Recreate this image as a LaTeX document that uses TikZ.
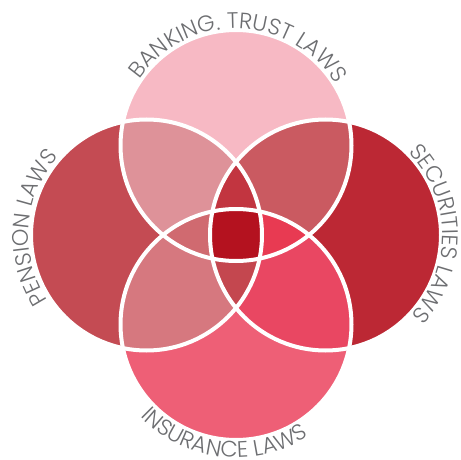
\documentclass[tikz,border=0pt]{standalone}
\usepackage{fontspec}
\setsansfont{Poppins}[UprightFont=* Light]
\usetikzlibrary{decorations.text}

\definecolor{bankonly}{RGB}{247,185,196}
\definecolor{pensonly}{RGB}{196,75,83}
\definecolor{secuonly}{RGB}{188,40,52}
\definecolor{insuonly}{RGB}{238,95,118}
\definecolor{bankpens}{RGB}{222,146,153}
\definecolor{banksecu}{RGB}{202,90,97}
\definecolor{insupens}{RGB}{214,120,127}
\definecolor{insusecu}{RGB}{233,71,98}
\definecolor{topmid}{RGB}{194,53,64}
\definecolor{botmid}{RGB}{196,71,79}
\definecolor{leftmid}{RGB}{208,106,112}
\definecolor{rightmid}{RGB}{232,58,82}
\definecolor{allfour}{RGB}{180,18,31}
\definecolor{lawgrey}{RGB}{109,110,113}

\tikzset{
  rim/.style={draw=white, line width=3pt},
  lawlabel/.style={decorate, decoration={text along path, text align=center,
      text={|\sffamily\fontsize{16.8}{16.8}\selectfont\color{lawgrey}|#1}}}
}

\begin{document}
\begin{tikzpicture}[x=0.75pt,y=0.75pt,yscale=-1,xscale=1]
\useasboundingbox (0,0) rectangle (461,460);
\def\rad{115.5}

%Centres of the four circles
\coordinate (bank) at (236,145.5);
\coordinate (pens) at (146.5,235);
\coordinate (secu) at (325.5,235);
\coordinate (insu) at (236,324.5);

%Shape: Circles, one colour each
\fill [bankonly] (bank) circle [radius=\rad];
\fill [pensonly] (pens) circle [radius=\rad];
\fill [secuonly] (secu) circle [radius=\rad];
\fill [insuonly] (insu) circle [radius=\rad];

%Overlaps of two
\begin{scope}
\clip (bank) circle [radius=\rad];
\fill [bankpens] (pens) circle [radius=\rad];
\fill [banksecu] (secu) circle [radius=\rad];
\end{scope}
\begin{scope}
\clip (insu) circle [radius=\rad];
\fill [insupens] (pens) circle [radius=\rad];
\fill [insusecu] (secu) circle [radius=\rad];
\end{scope}

%Overlaps of three
\begin{scope}
\clip (bank) circle [radius=\rad];
\clip (pens) circle [radius=\rad];
\fill [topmid] (secu) circle [radius=\rad];
\end{scope}
\begin{scope}
\clip (insu) circle [radius=\rad];
\clip (pens) circle [radius=\rad];
\fill [botmid] (secu) circle [radius=\rad];
\end{scope}
\begin{scope}
\clip (bank) circle [radius=\rad];
\clip (insu) circle [radius=\rad];
\fill [leftmid] (pens) circle [radius=\rad];
\fill [rightmid] (secu) circle [radius=\rad];
%Overlap of all four
\clip (pens) circle [radius=\rad];
\fill [allfour] (secu) circle [radius=\rad];
\end{scope}

%White rims
\draw [rim] (bank) circle [radius=\rad];
\draw [rim] (pens) circle [radius=\rad];
\draw [rim] (secu) circle [radius=\rad];
\draw [rim] (insu) circle [radius=\rad];

% Text along the circles
\path [lawlabel={BANKING. TRUST LAWS}] (bank) ++(191.5:117) arc [start angle=191.5, end angle=351.5, radius=117];
\path [lawlabel={PENSION LAWS}] (pens) ++(110:118) arc [start angle=110, end angle=258, radius=118];
\path [lawlabel={SECURITIES LAWS}] (secu) ++(-76:117) arc [start angle=-76, end angle=74, radius=117];
\path [lawlabel={INSURANCE LAWS}] (insu) ++(170:133) arc [start angle=170, end angle=23, radius=133];

\end{tikzpicture}
\end{document}
